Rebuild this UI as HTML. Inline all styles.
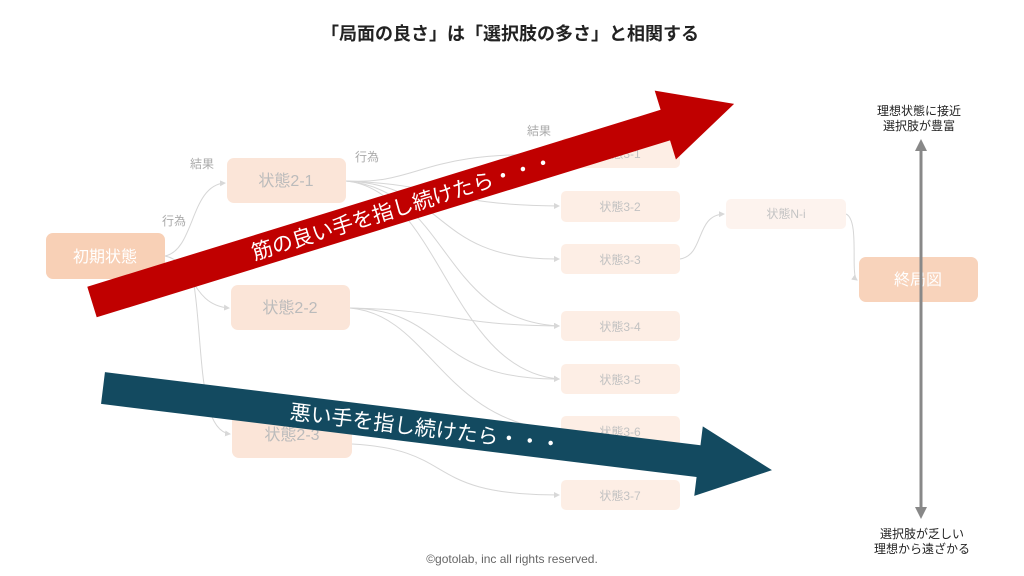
<!DOCTYPE html><html><head><meta charset="utf-8"><style>
body{margin:0;width:1024px;height:576px;background:#fff;overflow:hidden;font-family:"Liberation Sans","Noto Sans CJK JP",sans-serif}
svg{position:absolute;left:0;top:0}
text{font-family:"Liberation Sans","Noto Sans CJK JP",sans-serif}
</style></head><body>
<svg width="1024" height="576" viewBox="0 0 1024 576">
<defs><marker id="a" markerWidth="6" markerHeight="6" refX="5" refY="3" orient="auto"><path d="M0,0L6,3L0,6z" fill="#d8d8d8"/></marker></defs>
<text x="510" y="40" text-anchor="middle" font-size="18" font-weight="bold" fill="#222">「局面の良さ」は「選択肢の多さ」と相関する</text>
<g fill="none" stroke="#d6d6d6" stroke-width="1">
<path d="M165,256 C195,250 190,185 225,183" marker-end="url(#a)"/>
<path d="M165,256 C195,262 190,305 229,308" marker-end="url(#a)"/>
<path d="M190,262 C205,330 195,430 230,434" marker-end="url(#a)"/>
<path d="M346,181 C420,185 420,150 559,155" marker-end="url(#a)"/>
<path d="M346,181 C450,185 440,205 559,206" marker-end="url(#a)"/>
<path d="M346,181 C450,185 430,260 559,259" marker-end="url(#a)"/>
<path d="M346,181 C450,190 440,320 559,326" marker-end="url(#a)"/>
<path d="M346,181 C440,190 450,370 559,379" marker-end="url(#a)"/>
<path d="M350,308 C450,310 450,325 559,326" marker-end="url(#a)"/>
<path d="M350,308 C450,310 430,380 559,379" marker-end="url(#a)"/>
<path d="M350,308 C430,315 440,420 559,431" marker-end="url(#a)"/>
<path d="M352,444 C460,450 420,495 559,495" marker-end="url(#a)"/>
<path d="M680,259 C705,255 695,215 724,214" marker-end="url(#a)"/>
<path d="M846,214 C860,220 850,275 857,280" marker-end="url(#a)"/>
</g>
<g font-size="12" fill="#aaa"><text x="190" y="168">結果</text><text x="162" y="225">行為</text><text x="355" y="161">行為</text><text x="527" y="135">結果</text></g>
<rect x="46" y="233" width="119" height="46" rx="7" fill="#f8d0b6"/><text x="105" y="262" text-anchor="middle" font-size="16" fill="#fff">初期状態</text>
<g fill="#fbe5d8"><rect x="227" y="158" width="119" height="45" rx="7"/><rect x="231" y="285" width="119" height="45" rx="7"/><rect x="232" y="412" width="120" height="46" rx="7"/></g>
<g font-size="16" fill="#bbb" text-anchor="middle"><text x="286" y="186">状態2-1</text><text x="290" y="313">状態2-2</text><text x="292" y="440">状態2-3</text></g>
<g fill="#fdeee5"><rect x="561" y="138" width="119" height="30" rx="5"/><rect x="561" y="191" width="119" height="31" rx="5"/><rect x="561" y="244" width="119" height="30" rx="5"/><rect x="561" y="311" width="119" height="30" rx="5"/><rect x="561" y="364" width="119" height="30" rx="5"/><rect x="561" y="416" width="119" height="30" rx="5"/><rect x="561" y="480" width="119" height="30" rx="5"/></g>
<g font-size="12" fill="#c2c2c2" text-anchor="middle"><text x="620" y="158">状態3-1</text><text x="620" y="211">状態3-2</text><text x="620" y="264">状態3-3</text><text x="620" y="331">状態3-4</text><text x="620" y="384">状態3-5</text><text x="620" y="436">状態3-6</text><text x="620" y="500">状態3-7</text></g>
<rect x="726" y="199" width="120" height="30" rx="5" fill="#fdf3ee"/><text x="786" y="218" text-anchor="middle" font-size="12" fill="#c4c4c4">状態N-i</text>
<rect x="859" y="257" width="119" height="45" rx="7" fill="#f8d3bb"/><text x="918" y="285" text-anchor="middle" font-size="16" fill="#fff">終局図</text>
<g transform="translate(92,302) rotate(-17.15)"><path d="M0,-16H600V-36L672,0L600,36V16H0z" fill="#c00000"/><text x="325" y="8" text-anchor="middle" font-size="21" fill="#fff">筋の良い手を指し続けたら・・・</text></g>
<g transform="translate(103,388) rotate(7)"><path d="M0,-16H600V-35L674,0L600,35V16H0z" fill="#134a60"/><text x="325" y="8" text-anchor="middle" font-size="21" fill="#fff">悪い手を指し続けたら・・・</text></g>
<line x1="921" y1="150" x2="921" y2="508" stroke="#888" stroke-width="3"/>
<path d="M921,139L915,151H927z" fill="#888"/><path d="M921,519L915,507H927z" fill="#888"/>
<g font-size="12" fill="#222" text-anchor="middle"><text x="919" y="115">理想状態に接近</text><text x="919" y="130">選択肢が豊富</text><text x="922" y="538">選択肢が乏しい</text><text x="922" y="553">理想から遠ざかる</text></g>
<text x="512" y="563" text-anchor="middle" font-size="12" fill="#666">©gotolab, inc  all rights reserved.</text>
</svg></body></html>
